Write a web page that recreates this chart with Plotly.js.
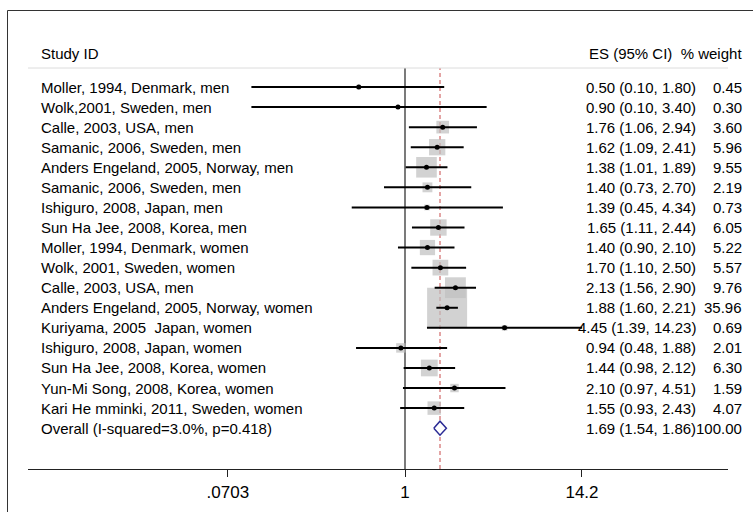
<!DOCTYPE html>
<html>
<head>
<meta charset="utf-8">
<script src="https://cdn.plot.ly/plotly-3.0.1.min.js"></script>
<style>
html,body{margin:0;padding:0;background:#fff;}
#chart{width:753px;height:512px;}
</style>
</head>
<body>
<div id="chart"></div>
<script>
// ---- data ----
var studies = [
  "Moller, 1994, Denmark, men",
  "Wolk,2001, Sweden, men",
  "Calle, 2003, USA, men",
  "Samanic, 2006, Sweden, men",
  "Anders Engeland, 2005, Norway, men",
  "Samanic, 2006, Sweden, men",
  "Ishiguro, 2008, Japan, men",
  "Sun Ha Jee, 2008, Korea, men",
  "Moller, 1994, Denmark, women",
  "Wolk, 2001, Sweden, women",
  "Calle, 2003, USA, men",
  "Anders Engeland, 2005, Norway, women",
  "Kuriyama, 2005 \u00a0Japan, women",
  "Ishiguro, 2008, Japan, women",
  "Sun Ha Jee, 2008, Korea, women",
  "Yun-Mi Song, 2008, Korea, women",
  "Kari He mminki, 2011, Sweden, women"
];
var es    = [0.50, 0.90, 1.76, 1.62, 1.38, 1.40, 1.39, 1.65, 1.40, 1.70, 2.13, 1.88, 4.45, 0.94, 1.44, 2.10, 1.55];
var lower = [0.10, 0.10, 1.06, 1.09, 1.01, 0.73, 0.45, 1.11, 0.90, 1.10, 1.56, 1.60, 1.39, 0.48, 0.98, 0.97, 0.93];
var upper = [1.80, 3.40, 2.94, 2.41, 1.89, 2.70, 4.34, 2.44, 2.10, 2.50, 2.90, 2.21, 14.23, 1.88, 2.12, 4.51, 2.43];
var weight = [0.45, 0.30, 3.60, 5.96, 9.55, 2.19, 0.73, 6.05, 5.22, 5.57, 9.76, 35.96, 0.69, 2.01, 6.30, 1.59, 4.07];

var overallLabel = "Overall (I-squared=3.0%, p=0.418)";
var overallES = 1.69, overallLo = 1.54, overallHi = 1.86, overallW = 100.00;

var tickVals = [0.0703, 1, 14.2];
var tickText = [".0703", "1", "14.2"];

// ---- build ----
var W = 753, H = 512;
var FONT = "Liberation Sans Narrow, Arial Narrow, sans-serif";
var FS = 15;
var n = studies.length;
var rows = studies.map(function(_, i){ return i; });
var overallRow = n;

var ciX = [], ciY = [];
for (var i = 0; i < n; i++) {
  ciX.push(lower[i], upper[i], null);
  ciY.push(i, i, null);
}

var traces = [
  { type: "scatter", mode: "markers", x: es, y: rows,
    marker: { symbol: "square", color: "#bfbfbf",
              size: weight.map(function(w){ return 6.67 * Math.sqrt(w); }),
              line: { width: 0 } },
    hoverinfo: "skip" },
  { type: "scatter", mode: "lines", x: ciX, y: ciY,
    line: { color: "#000", width: 2 }, hoverinfo: "skip" },
  { type: "scatter", mode: "markers", x: es, y: rows,
    marker: { symbol: "circle", color: "#000", size: 5 }, hoverinfo: "skip" },
  { type: "scatter", mode: "lines",
    x: [overallLo, overallES, overallHi, overallES, overallLo],
    y: [overallRow, overallRow - 0.35, overallRow, overallRow + 0.35, overallRow],
    fill: "toself", fillcolor: "#ffffff",
    line: { color: "#2b2b95", width: 1.5 }, hoverinfo: "skip" }
];

function px2x(p){ return p / W; }
function px2y(p){ return (H - p) / H; }

var annotations = [];
function ann(o){
  var a = { showarrow: false, font: { family: FONT, size: FS, color: "#000" }, yanchor: "middle", borderpad: 0 };
  for (var k in o) a[k] = o[k];
  return a;
}

annotations.push(ann({ text: "Study ID", xref: "paper", yref: "paper", x: px2x(40), y: px2y(53), xanchor: "left" }));
annotations.push(ann({ text: "ES (95% CI) \u00a0% weight", xref: "paper", yref: "paper", x: px2x(743), y: px2y(53), xanchor: "right" }));

var allLabels = studies.concat([overallLabel]);
var allES = es.concat([overallES]), allLo = lower.concat([overallLo]), allHi = upper.concat([overallHi]);
var allW = weight.concat([overallW]);
for (var j = 0; j < allLabels.length; j++) {
  annotations.push(ann({ text: allLabels[j], xref: "paper", yref: "y", x: px2x(40), y: j, xanchor: "left" }));
  annotations.push(ann({ text: allES[j].toFixed(2) + " (" + allLo[j].toFixed(2) + ", " + allHi[j].toFixed(2) + ")",
                         xref: "paper", yref: "y", x: px2x(697), y: j, xanchor: "right" }));
  annotations.push(ann({ text: allW[j].toFixed(2), xref: "paper", yref: "y", x: px2x(743), y: j, xanchor: "right" }));
}

var shapes = [
  { type: "line", xref: "paper", yref: "paper", x0: px2x(7.5), x1: px2x(7.5), y0: px2y(10.5), y1: -0.1,
    line: { color: "#333", width: 1 } },
  { type: "line", xref: "paper", yref: "paper", x0: px2x(7.5), x1: 1.1, y0: px2y(10.5), y1: px2y(10.5),
    line: { color: "#333", width: 1 } },
  { type: "line", xref: "paper", yref: "paper", x0: px2x(28), x1: px2x(728), y0: px2y(68), y1: px2y(68),
    line: { color: "#dcdcdc", width: 1 } },
  { type: "line", xref: "x", yref: "y domain", x0: 1, x1: 1, y0: 0, y1: 1,
    line: { color: "#222", width: 1.2 }, layer: "below" },
  { type: "line", xref: "x", yref: "y domain", x0: overallES, x1: overallES, y0: 0, y1: 1,
    line: { color: "#c84a4a", width: 1, dash: "4px,3px" }, layer: "below" }
];

var xlo = (28 - 405) / 153.6, xhi = (728 - 405) / 153.6;
var ytop = (68 - 87) / 20.07, ybot = (469 - 87) / 20.07;

var layout = {
  width: W, height: H,
  margin: { l: 0, r: 0, t: 0, b: 0 },
  paper_bgcolor: "#fff", plot_bgcolor: "#fff",
  showlegend: false,
  xaxis: {
    type: "log", domain: [28 / W, 728 / W], range: [xlo, xhi],
    tickvals: tickVals, ticktext: tickText,
    showgrid: false, zeroline: false,
    showline: true, linecolor: "#222", linewidth: 1.2,
    ticks: "outside", ticklen: 7, tickwidth: 1, tickcolor: "#222",
    tickfont: { family: FONT, size: 17, color: "#000" },
    fixedrange: true
  },
  yaxis: {
    domain: [(H - 469) / H, (H - 68) / H], range: [ybot, ytop],
    visible: false, showgrid: false, zeroline: false, fixedrange: true
  },
  shapes: shapes,
  annotations: annotations
};

Plotly.newPlot("chart", traces, layout, { displayModeBar: false, staticPlot: true });
</script>
</body>
</html>
